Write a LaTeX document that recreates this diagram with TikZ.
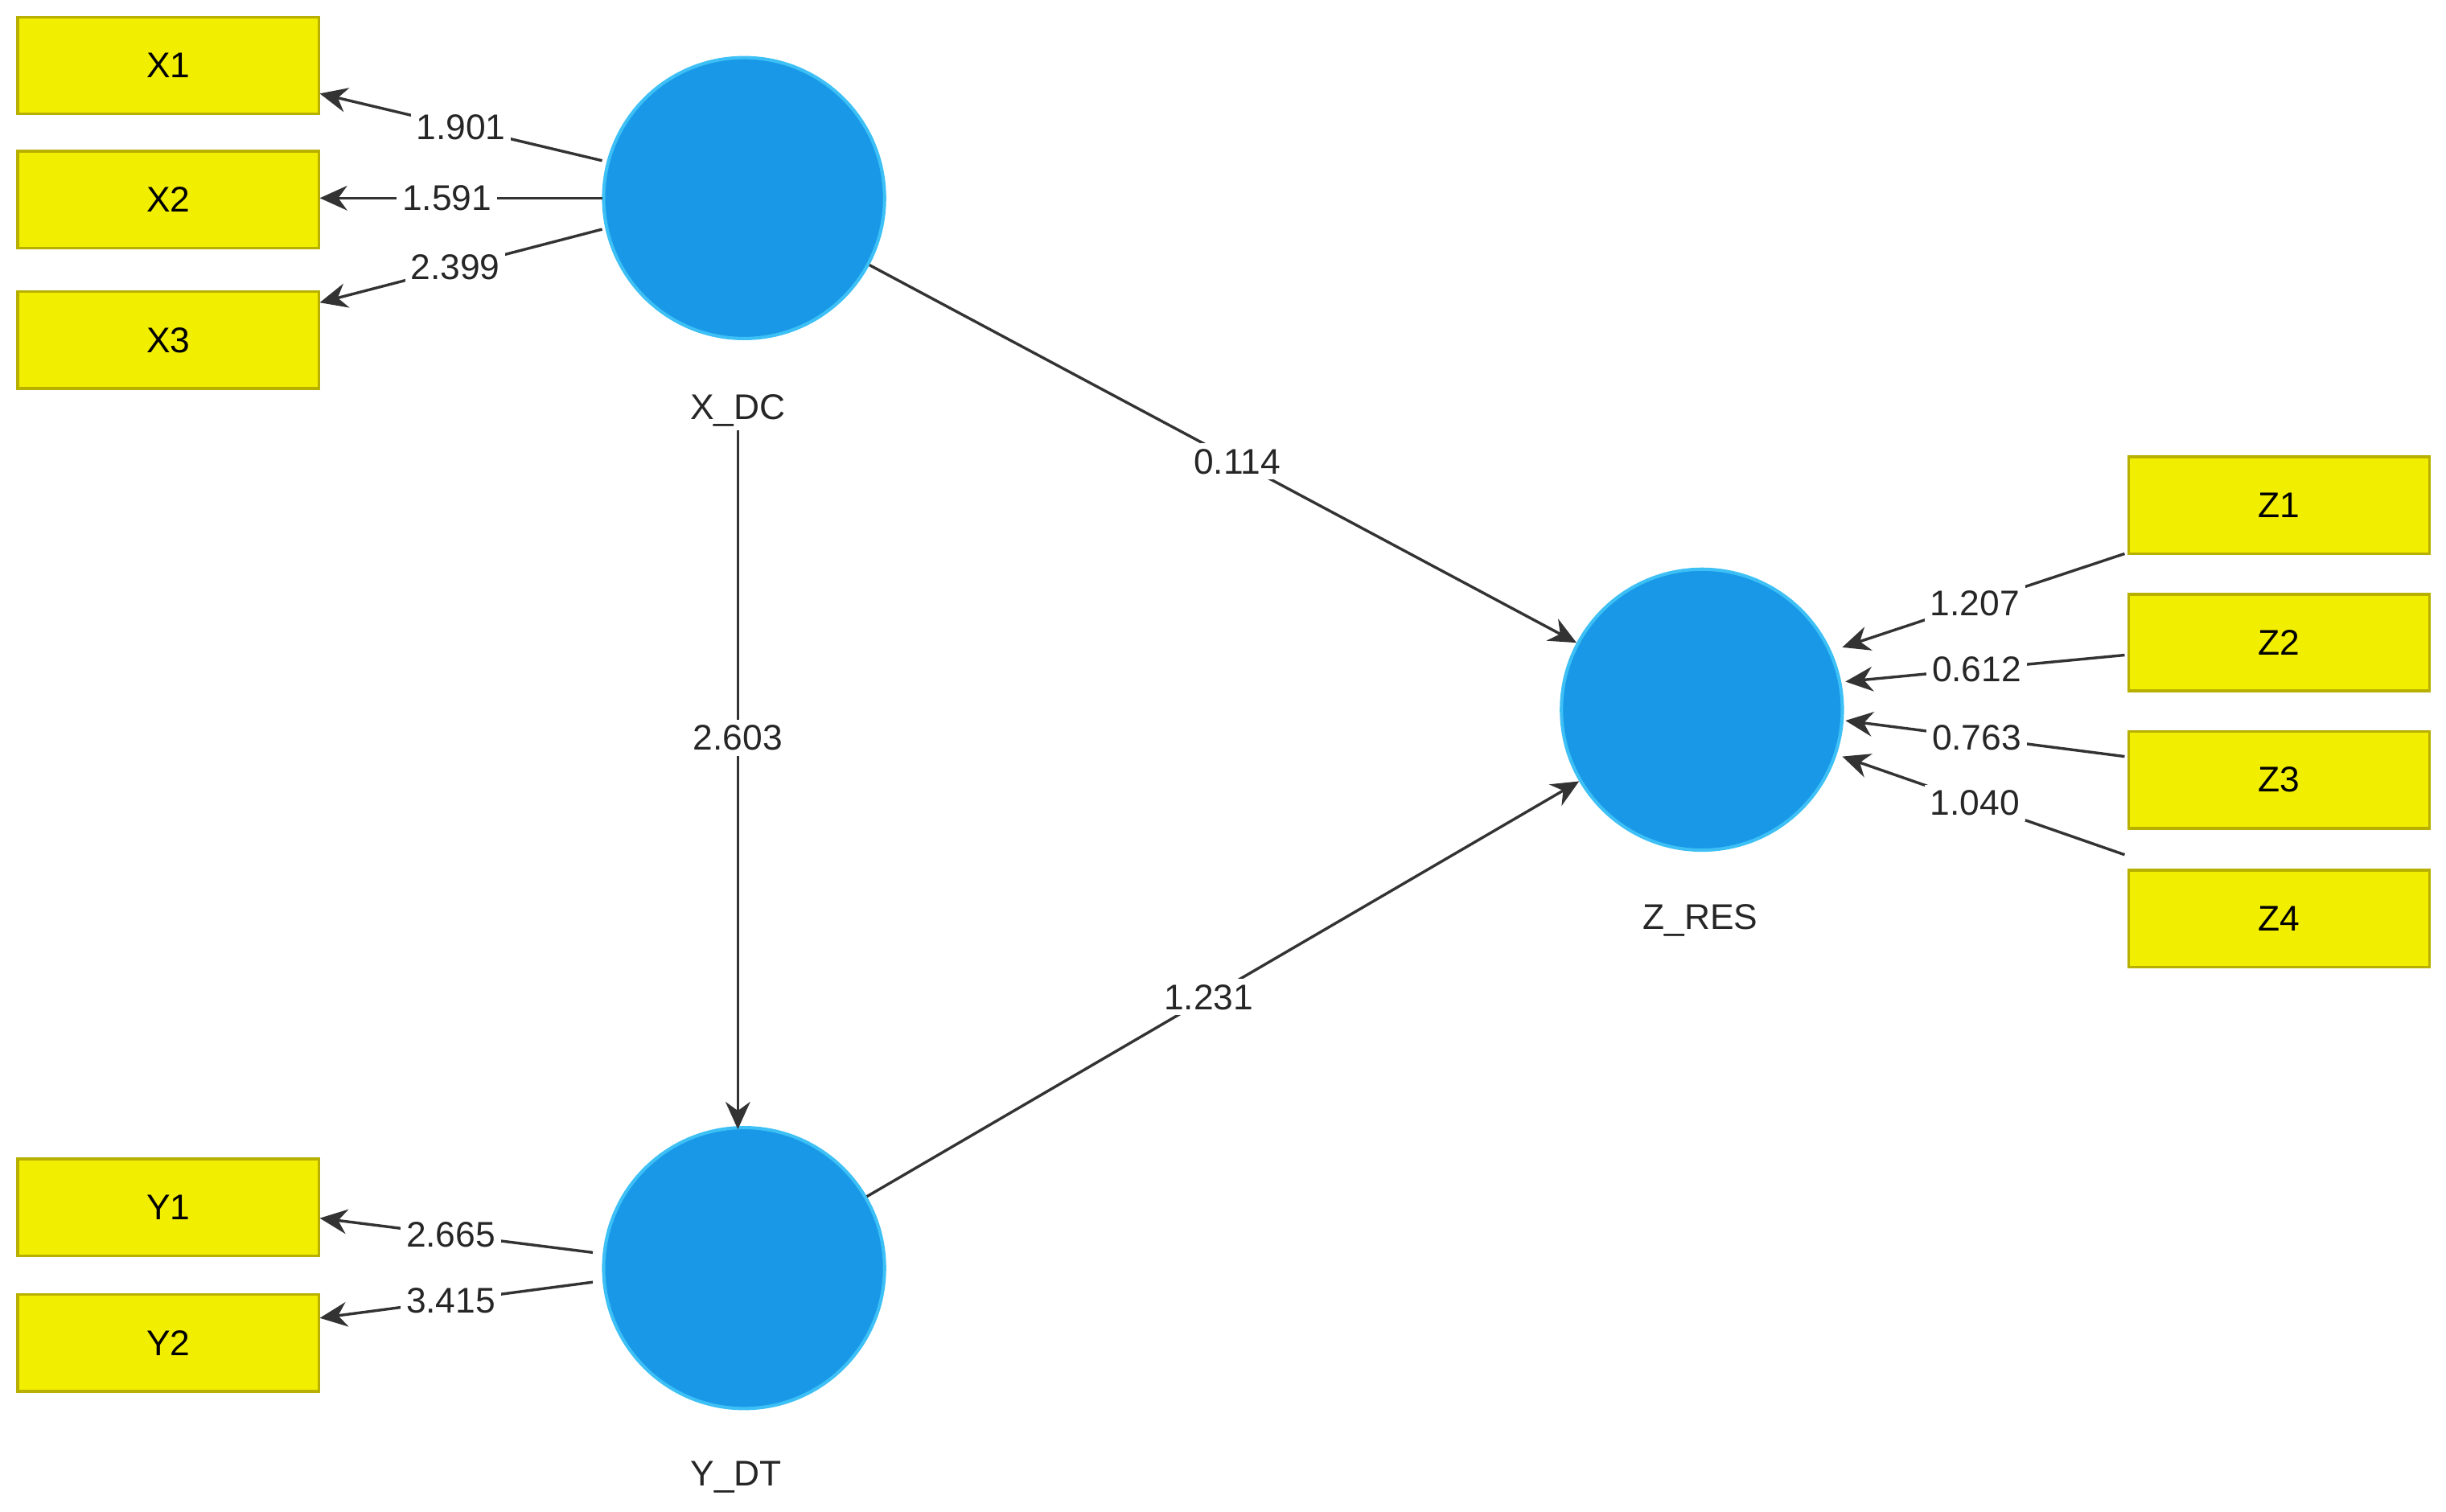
\documentclass[tikz,border=0pt]{standalone}
\usepackage{fontspec}
\setmainfont{Liberation Sans}
\usetikzlibrary{arrows.meta}
\definecolor{lv}{HTML}{1A98E8}
\definecolor{lvb}{HTML}{3CC0F5}
\definecolor{mv}{HTML}{F2EE00}
\definecolor{mvb}{HTML}{B8B000}
\begin{document}
\begin{tikzpicture}[x=0.01cm,y=-0.01cm,
  latent/.style={circle,fill=lv,draw=lvb,line width=0.6pt,minimum size=1.8cm,inner sep=0pt},
  mvbox/.style={rectangle,fill=mv,draw=mvb,line width=0.5pt,minimum width=1.93cm,minimum height=0.62cm,inner sep=0pt,font=\fontsize{6.5}{7}\selectfont},
  lbl/.style={fill=white,inner sep=1pt,font=\fontsize{6.5}{7}\selectfont,text=black!85},
  nm/.style={font=\fontsize{6.5}{7}\selectfont,text=black!85},
  conn/.style={draw=black!80,line width=0.5pt,-{Stealth[length=5pt,width=4.5pt]}}]
\useasboundingbox (0,0) rectangle (1568,969.3);
\fill[white] (0,0) rectangle (1568,969.3);
% latent
\node[latent] (xdc) at (477,127) {};
\node[latent] (zres) at (1091,455) {};
\node[latent] (ydt) at (477,813) {};
\node[nm] (lxdc) at (473,263) {X\_DC};
\node[nm] (lzres) at (1090,590) {Z\_RES};
\node[nm] (lydt) at (472,947) {Y\_DT};
% indicators
\node[mvbox] (x1) at (108,42) {X1};
\node[mvbox] (x2) at (108,128) {X2};
\node[mvbox] (x3) at (108,218) {X3};
\node[mvbox] (y1) at (108,774) {Y1};
\node[mvbox] (y2) at (108,861) {Y2};
\node[mvbox] (z1) at (1461,324) {Z1};
\node[mvbox] (z2) at (1461,412) {Z2};
\node[mvbox] (z3) at (1461,500) {Z3};
\node[mvbox] (z4) at (1461,589) {Z4};
% coordinates
\coordinate (a1) at (386,103); \coordinate (b1) at (205,60);
\coordinate (a2) at (386,127); \coordinate (b2) at (205,127);
\coordinate (a3) at (386,147); \coordinate (b3) at (205,194);
\coordinate (c1) at (380,803); \coordinate (d1) at (205,781);
\coordinate (c2) at (380,822); \coordinate (d2) at (205,845);
\coordinate (e1) at (1362,355); \coordinate (f1) at (1181,415);
\coordinate (e2) at (1362,420); \coordinate (f2) at (1183,437);
\coordinate (e3) at (1362,485); \coordinate (f3) at (1183,462);
\coordinate (e4) at (1362,548); \coordinate (f4) at (1181,485);
\draw[conn] (a1) -- node[lbl,pos=0.5]{1.901} (b1);
\draw[conn] (a2) -- node[lbl,pos=0.55]{1.591} (b2);
\draw[conn] (a3) -- node[lbl,pos=0.52]{2.399} (b3);
\draw[conn] (c1) -- node[lbl,pos=0.52]{2.665} (d1);
\draw[conn] (c2) -- node[lbl,pos=0.52]{3.415} (d2);
\draw[conn] (e1) -- node[lbl,pos=0.53]{1.207} (f1);
\draw[conn] (e2) -- node[lbl,pos=0.53]{0.612} (f2);
\draw[conn] (e3) -- node[lbl,pos=0.53]{0.763} (f3);
\draw[conn] (e4) -- node[lbl,pos=0.53]{1.040} (f4);
% structural
\coordinate (xt) at (473,276);
\coordinate (yt) at (473,724);
\draw[conn] (xt) -- node[lbl,pos=0.44]{2.603} (yt);
\draw[conn] (xdc) -- node[lbl,pos=0.52]{0.114} (zres);
\draw[conn] (ydt) -- node[lbl,pos=0.48]{1.231} (zres);
\end{tikzpicture}
\end{document}
